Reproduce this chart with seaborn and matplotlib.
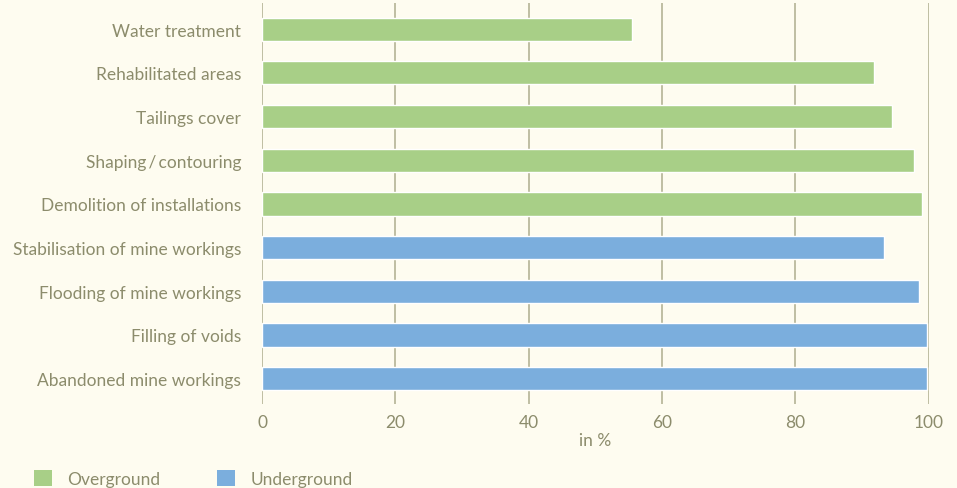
import matplotlib
matplotlib.use("Agg")
import matplotlib.pyplot as plt
import seaborn as sns
import pandas as pd

categories = ["Water treatment", "Rehabilitated areas", "Tailings cover", "Shaping\u2009/\u2009contouring",
              "Demolition of installations", "Stabilisation of mine workings",
              "Flooding of mine workings", "Filling of voids", "Abandoned mine workings"]
values = [55.5, 91.8, 94.5, 97.8, 99.0, 93.3, 98.6, 99.8, 99.8]
groups = ["Overground"] * 5 + ["Underground"] * 4
xticks = [0, 20, 40, 60, 80, 100]

BG = "#FEFCF0"
TXT = "#8C8C6C"
GRID = "#AEAD8E"
palette = {"Overground": "#A8CF87", "Underground": "#7BAEDD"}

sns.set_style("white")
plt.rcParams["font.family"] = ["Lato", "DejaVu Sans"]
FS = 12.5

df = pd.DataFrame({"cat": categories, "val": values, "grp": groups})

fig = plt.figure(figsize=(9.57, 4.89), dpi=100, facecolor=BG)
ax = fig.add_axes([262/957, 1-405/489, (928.5-262)/957, (405-4)/489])
ax.set_facecolor(BG)
sns.barplot(data=df, x="val", y="cat", hue="grp", palette=palette, dodge=False,
            width=0.53, ax=ax, legend=False, saturation=1, zorder=3)
ax.set_xlim(0, 100)
ax.set_ylim(8.58, -0.6)
for s in ax.spines.values():
    s.set_visible(False)
for x in xticks:
    ax.axvline(x, color=GRID, lw=1.1, zorder=1)
ax.set_xticks(xticks)
ax.set_xticklabels([str(x) for x in xticks])
ax.tick_params(axis="x", length=0, pad=7, labelsize=FS, labelcolor=TXT)
ax.tick_params(axis="y", length=0, pad=15, labelsize=FS, labelcolor=TXT)
ax.set_xlabel("in %", color=TXT, fontsize=FS, labelpad=2)
ax.set_ylabel("")

# legend
from matplotlib.patches import Patch
handles = [Patch(facecolor=palette[g], edgecolor="none", label=g) for g in ["Overground", "Underground"]]
leg = fig.legend(handles=handles, loc="lower left", bbox_to_anchor=(34/957, 1/489), ncol=2,
                 frameon=False, fontsize=FS, handlelength=1.04, handleheight=1.04,
                 borderpad=0, borderaxespad=0,
                 columnspacing=3.3, handletextpad=0.86, labelcolor=TXT)

fig.savefig("out.png", dpi=100, facecolor=BG)
